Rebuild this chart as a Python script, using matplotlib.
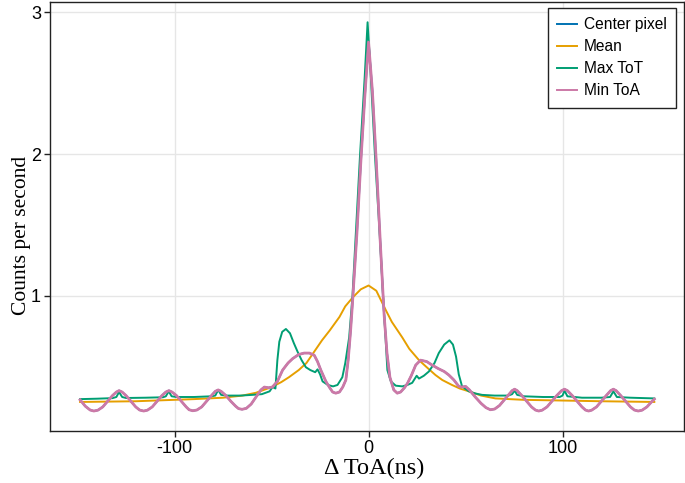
import matplotlib.pyplot as plt

plt.rcParams['axes.unicode_minus'] = False

# Min ToA (x in ns)
min_toa_x = [-148.7, -146, -143.5, -141.6, -139.5, -137, -134.5, -132, -130, -128.6,
             -127, -125, -122.5, -120, -118, -115.9, -114, -111.5, -109, -106.5,
             -104.5, -102.9, -101.3, -99, -96.5, -94, -92.5, -90.6, -88.5, -86,
             -83.5, -81, -79, -77.5, -76, -73.5, -71, -68.5, -67, -65.2,
             -63, -60.5, -58, -55.5, -53.7, -51.5, -49.6, -47, -44.3, -41.5,
             -39.2, -36, -33.2, -30.5, -28, -26.3, -24.6, -22, -20, -18.5,
             -16.9, -15, -13.3, -11.7, -10.5, -9.3, -8.3, -6, -4, -2,
             0, 2, 4, 6, 8, 9.5, 11, 13, 14.8, 16.5,
             18.5, 20, 22, 24.3, 26.8, 30, 32.8, 36, 39, 41.4,
             44, 46.5, 48, 50, 52, 55, 58, 60.5, 62.8, 65,
             67.5, 70, 72.5, 74, 75.3, 76.6, 79, 81.5, 84, 86,
             87.7, 89.5, 92, 94.5, 97, 99.5, 101, 102.5, 105, 107.5,
             110, 111.8, 113.4, 115, 117.5, 120, 122.5, 124.8, 126.2, 127.6,
             130, 132.5, 135, 137, 139, 141, 143.5, 145.5, 147.3]
min_toa_y = [0.265, 0.22, 0.193, 0.186, 0.192, 0.215, 0.255, 0.295, 0.32, 0.33,
             0.32, 0.295, 0.255, 0.215, 0.193, 0.186, 0.192, 0.215, 0.255, 0.295,
             0.32, 0.33, 0.32, 0.295, 0.255, 0.215, 0.195, 0.188, 0.193, 0.215,
             0.255, 0.295, 0.325, 0.335, 0.325, 0.295, 0.255, 0.22, 0.203, 0.198,
             0.205, 0.235, 0.285, 0.335, 0.355, 0.35, 0.355, 0.395, 0.475, 0.525,
             0.555, 0.585, 0.595, 0.595, 0.58, 0.535, 0.475, 0.395, 0.35, 0.32,
             0.312, 0.32, 0.355, 0.405, 0.545, 0.745, 0.945, 1.44, 1.94, 2.39,
             2.79, 2.44, 1.94, 1.39, 0.87, 0.595, 0.425, 0.335, 0.312, 0.32,
             0.35, 0.38, 0.435, 0.51, 0.545, 0.535, 0.51, 0.485, 0.465, 0.44,
             0.405, 0.36, 0.355, 0.36, 0.335, 0.285, 0.24, 0.21, 0.195, 0.2,
             0.225, 0.265, 0.305, 0.33, 0.34, 0.33, 0.295, 0.255, 0.215, 0.193,
             0.186, 0.192, 0.215, 0.255, 0.295, 0.33, 0.34, 0.33, 0.295, 0.255,
             0.215, 0.193, 0.186, 0.192, 0.215, 0.255, 0.295, 0.33, 0.34, 0.33,
             0.295, 0.255, 0.215, 0.193, 0.186, 0.192, 0.215, 0.245, 0.27]

# Center pixel lies under Min ToA everywhere
center_x = list(min_toa_x)
center_y = list(min_toa_y)

# Max ToT
max_tot_x = [-148.7, -140, -132, -130, -128.6, -127, -125, -115, -106, -104.5,
             -103, -101.5, -99, -90, -81, -79, -77.5, -76, -73, -66,
             -60, -55, -53, -51, -49.5, -48, -47, -46, -44.5, -42.6,
             -40.5, -38.5, -36.6, -34.5, -32.3, -30, -27.5, -26.3, -25, -23.7,
             -21, -18.3, -16, -13.5, -12, -10, -8.3, -4.4, -2, -0.5,
             1, 3.3, 5.5, 7.5, 9, 9.7, 11.5, 14, 17.4, 20,
             22.5, 24.8, 26, 28.5, 31.1, 34, 36.2, 39, 41.7, 43.5,
             45.1, 46.5, 48.2, 51.7, 55, 58.5, 65, 72, 74, 75.3,
             76.6, 80, 90, 98.5, 100, 101, 102.5, 110, 120, 124.5,
             126.2, 128, 135, 147.3]
max_tot_y = [0.27, 0.273, 0.277, 0.285, 0.32, 0.285, 0.278, 0.28, 0.283, 0.29,
             0.325, 0.29, 0.285, 0.285, 0.29, 0.295, 0.335, 0.3, 0.295, 0.295,
             0.3, 0.305, 0.315, 0.325, 0.355, 0.345, 0.545, 0.675, 0.745, 0.765,
             0.735, 0.665, 0.605, 0.545, 0.495, 0.475, 0.46, 0.48, 0.445, 0.395,
             0.37, 0.36, 0.37, 0.425, 0.525, 0.705, 0.995, 1.99, 2.54, 2.93,
             2.59, 1.99, 1.49, 0.99, 0.645, 0.475, 0.395, 0.365, 0.36, 0.37,
             0.385, 0.435, 0.415, 0.435, 0.465, 0.525, 0.595, 0.655, 0.685, 0.655,
             0.57, 0.445, 0.36, 0.325, 0.31, 0.3, 0.295, 0.295, 0.305, 0.33,
             0.3, 0.29, 0.285, 0.285, 0.295, 0.33, 0.29, 0.28, 0.28, 0.285,
             0.325, 0.285, 0.28, 0.275]

# Mean
mean_x = [-148.7, -120, -100, -90, -75, -65, -58, -50, -45, -41,
          -36, -32, -28, -24, -20, -15, -12, -8, -4, 0,
          4, 9, 12, 17.4, 21, 26, 30, 34.5, 38, 43,
          47, 51.7, 58, 65.4, 80, 100, 120, 147.3]
mean_y = [0.25, 0.255, 0.265, 0.27, 0.28, 0.295, 0.315, 0.355, 0.39, 0.425,
          0.475, 0.525, 0.605, 0.685, 0.755, 0.85, 0.925, 0.99, 1.045, 1.072,
          1.035, 0.895, 0.815, 0.705, 0.625, 0.545, 0.495, 0.44, 0.405, 0.37,
          0.345, 0.325, 0.295, 0.275, 0.265, 0.26, 0.255, 0.25]

fig = plt.figure(figsize=(6.85, 4.83), dpi=100)
ax = fig.add_axes([50 / 685, 52 / 483, 634 / 685, 429 / 483])

ax.plot(center_x, center_y, color='#0072B2', lw=1.4, label='Center pixel')
ax.plot(mean_x, mean_y, color='#E69F00', lw=1.4, label='Mean')
ax.plot(max_tot_x, max_tot_y, color='#009E73', lw=1.4, label='Max ToT')
ax.plot(min_toa_x, min_toa_y, color='#CC79A7', lw=2.0, label='Min ToA')

ax.set_xlim(-164.2, 162.6)
ax.set_ylim(0.045, 3.073)
ax.set_xticks([-100, 0, 100])
ax.set_yticks([1, 2, 3])
ax.grid(True, color='#e6e6e6', lw=1)
ax.set_axisbelow(True)
for s in ax.spines.values():
    s.set_color('#222222')
    s.set_linewidth(1)
ax.tick_params(direction='out', length=4.5, width=1, color='#222222',
               labelsize=13, pad=2)
for lab in ax.get_xticklabels() + ax.get_yticklabels():
    lab.set_family('Liberation Sans')

ax.set_xlabel('Δ ToA(ns)', family='Liberation Serif', fontsize=17.5)
ax.xaxis.set_label_coords(0.512, -0.062)
ax.set_ylabel('Counts per second', family='Liberation Serif', fontsize=15.5)
ax.yaxis.set_label_coords(-0.03, 0.455)

leg = ax.legend(loc='upper right', bbox_to_anchor=(0.987, 0.986),
                borderaxespad=0,
                prop={'family': 'Liberation Sans', 'size': 11.2},
                fancybox=False, framealpha=1, edgecolor='#222222',
                handlelength=1.3, handletextpad=0.4, labelspacing=0.45,
                borderpad=0.6)
leg.get_frame().set_linewidth(1)
for h in leg.get_lines():
    h.set_linewidth(1.4)

fig.savefig('out.png', dpi=100)
